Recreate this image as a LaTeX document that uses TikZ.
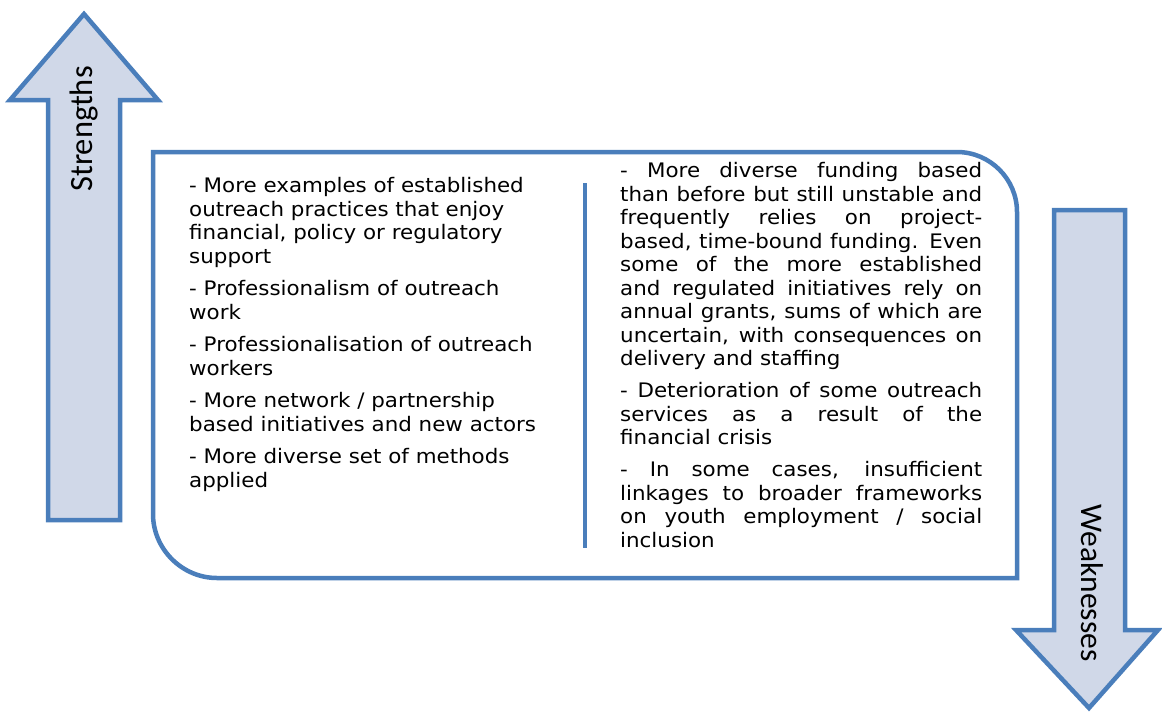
\documentclass[tikz,border=0pt]{standalone}
\usepackage{fontspec}
\setmainfont[FakeStretch=1.07]{DejaVu Sans}
\newfontfamily\calib{Carlito}
\definecolor{edge}{HTML}{4A7EBB}
\definecolor{pale}{HTML}{D0D8E8}
\tikzset{
  arrowshape/.style={draw=edge, fill=pale, line width=4.5pt, line join=miter},
  panel/.style={draw=edge, line width=4.5pt},
  divider/.style={draw=edge, line width=4pt},
  txt/.style={inner sep=0pt, align=left, font=\fontsize{20}{23.5}\selectfont, text=black},
  lbl/.style={inner sep=0pt, font=\calib\fontsize{32.5}{36}\selectfont, text=black}
}
\newcommand{\jl}[1]{\makebox[362pt][s]{#1}}
\begin{document}
\begin{tikzpicture}[x=1pt,y=-1pt]
\useasboundingbox (0,0) rectangle (1162,715);
% up arrow (Strengths)
\path[arrowshape] (48,520) -- (48,100) -- (10,100) -- (84,14) -- (158,100) -- (120,100) -- (120,520) -- cycle;
\node[lbl, rotate=90] (strengths) at (84,129) {Strengths};
% down arrow (Weaknesses)
\path[arrowshape] (1054,210) -- (1125,210) -- (1125,630) -- (1158,630) -- (1089,708) -- (1016,630) -- (1054,630) -- cycle;
\node[lbl, rotate=-90, font=\calib\fontsize{31.5}{36}\selectfont] (weaknesses) at (1092,583) {Weaknesses};
% panel
\path[panel] (153,152) -- (957,152) .. controls (990,152) and (1017,179) .. (1017,212) -- (1017,578) -- (217,578) .. controls (182,578) and (153,549) .. (153,514) -- cycle;
% divider
\coordinate (dtop) at (585,183);
\coordinate (dbot) at (585,548);
\path[divider] (dtop) -- (dbot);
% left column
\node[txt, anchor=north west] (left) at (189,177.5) {%
- More examples of established\\
outreach practices that enjoy\\
financial, policy or regulatory\\
support\\[9pt]
- Professionalism of outreach\\
work\\[9pt]
- Professionalisation of outreach\\
workers\\[9pt]
- More network / partnership\\
based initiatives and new actors\\[9pt]
- More diverse set of methods\\
applied};
% right column
\node[txt, anchor=north west] (right) at (620,162.5) {%
\jl{- More diverse funding based}\\
\jl{than before but still unstable and}\\
\jl{frequently relies on project-}\\
\jl{based, time-bound funding. Even}\\
\jl{some of the more established}\\
\jl{and regulated initiatives rely on}\\
\jl{annual grants, sums of which are}\\
\jl{uncertain, with consequences on}\\
delivery and staffing\\[8.5pt]
\jl{- Deterioration of some outreach}\\
\jl{services as a result of the}\\
financial crisis\\[8.5pt]
\jl{- In some cases, insufficient}\\
\jl{linkages to broader frameworks}\\
\jl{on youth employment / social}\\
inclusion};
\end{tikzpicture}
\end{document}
